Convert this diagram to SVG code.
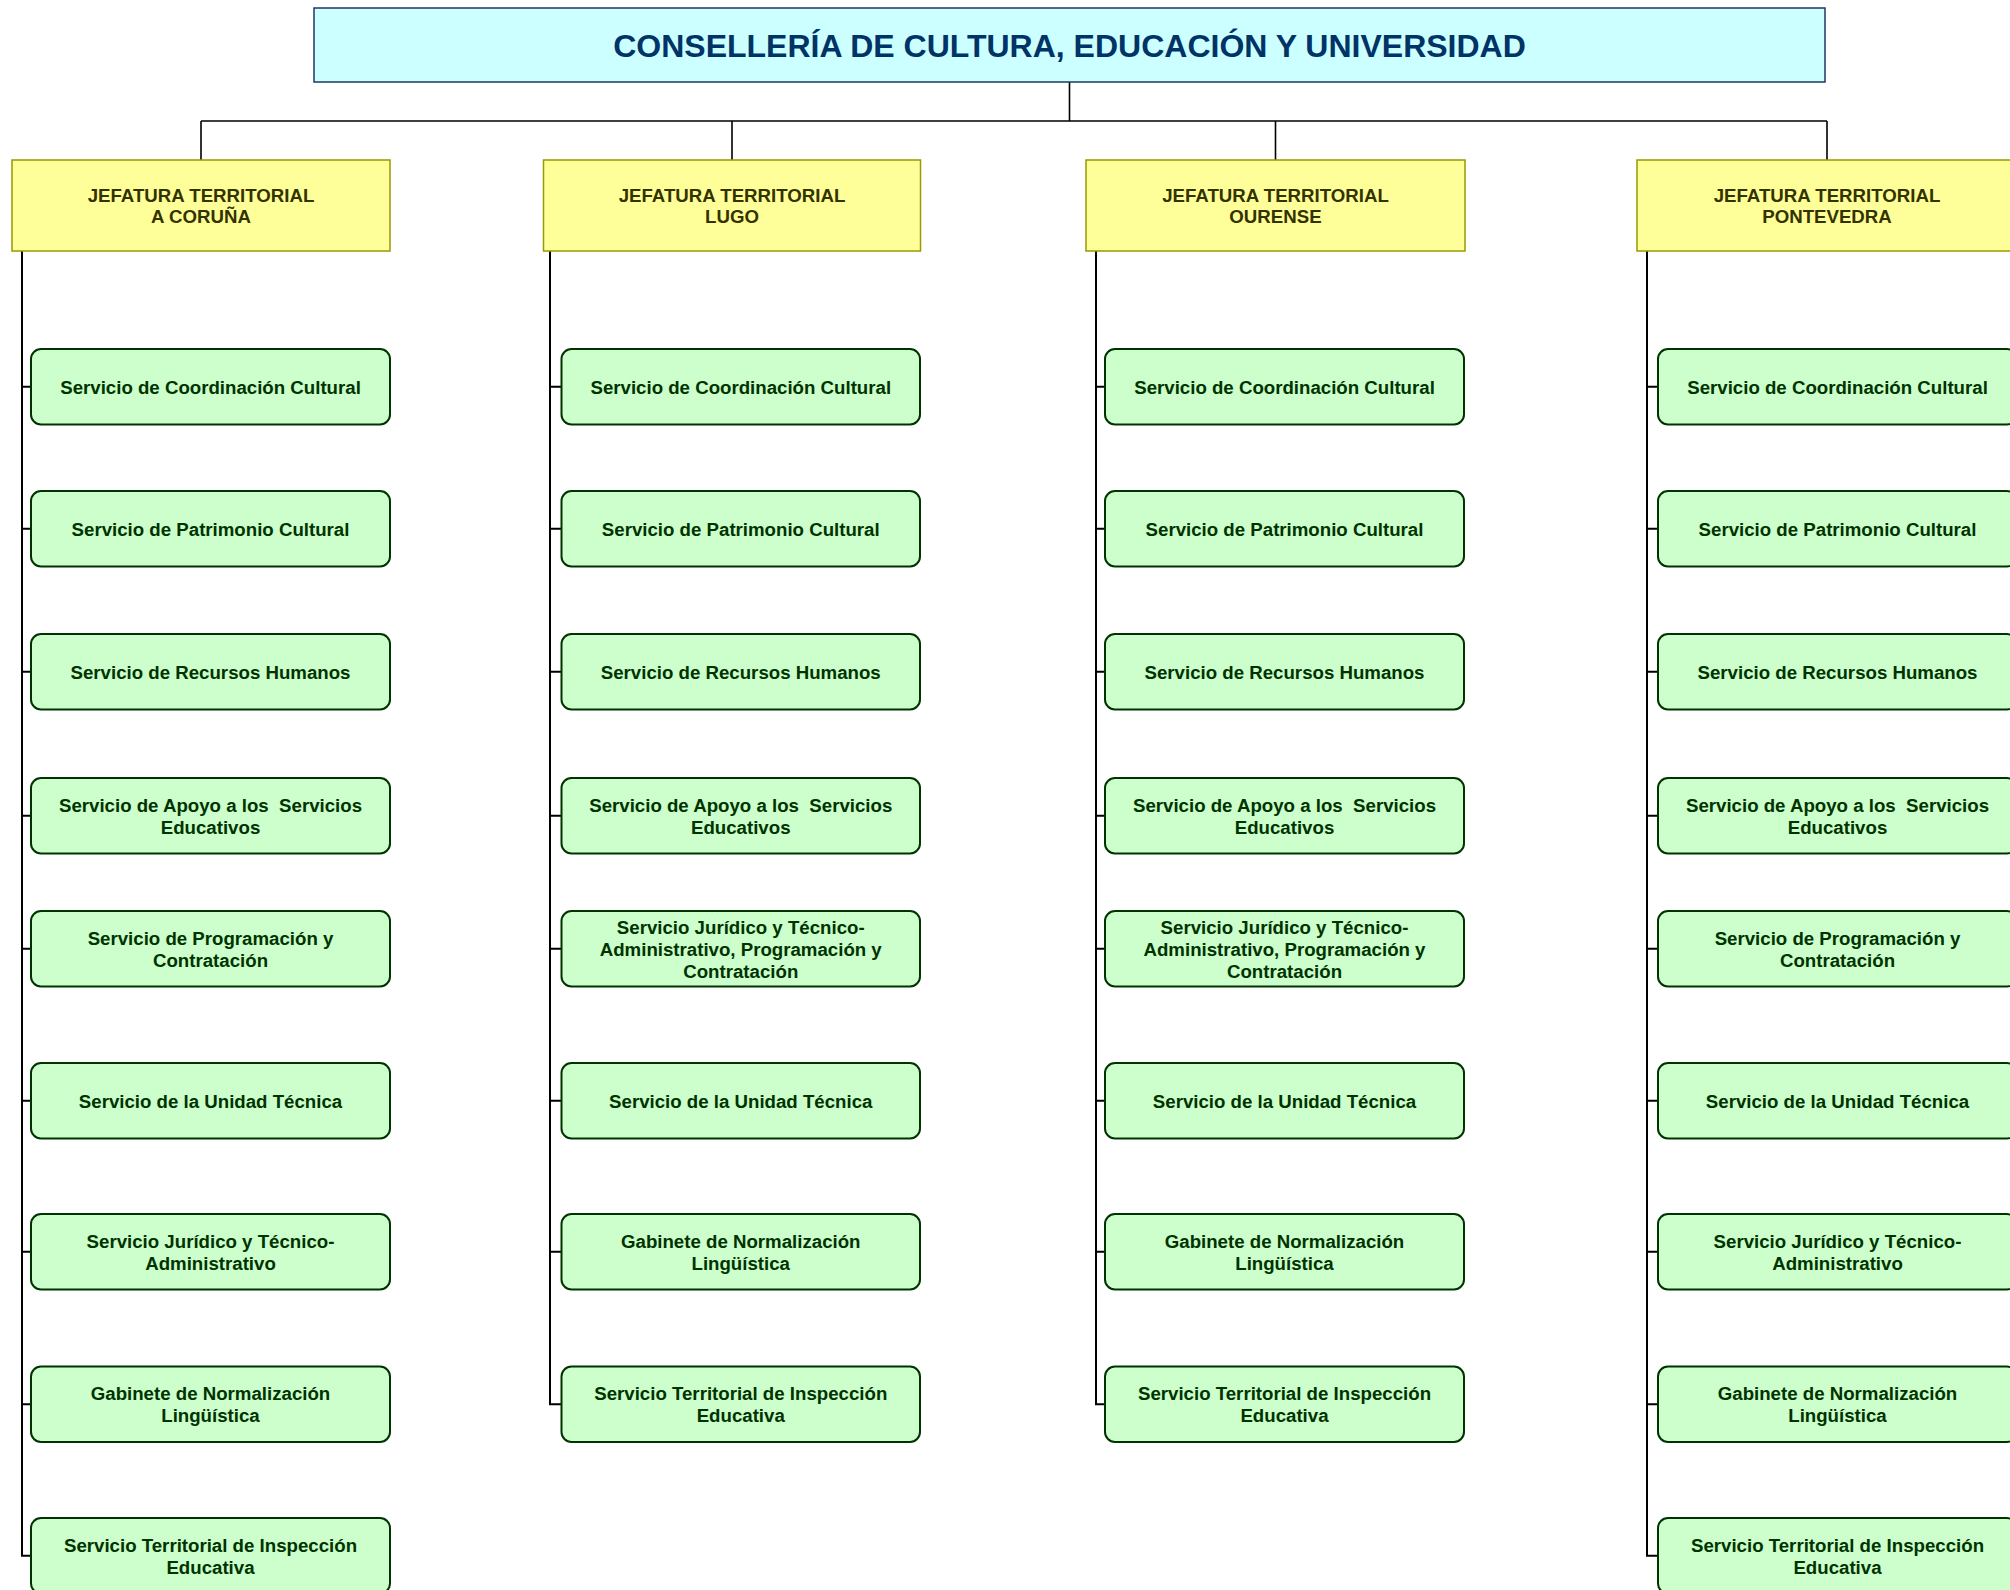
<svg xmlns="http://www.w3.org/2000/svg" width="2010" height="1590" viewBox="0 0 2010 1590">
<style>
text{font-family:"Liberation Sans",Arial,sans-serif;font-weight:bold;text-anchor:middle}
.top{fill:#CCFFFF;stroke:#1F3864;stroke-width:1.5}
.tt{font-size:32px;fill:#003366}
.jef{fill:#FFFF99;stroke:#999900;stroke-width:1.5}
.jt{font-size:18.67px;fill:#333300}
.srv{fill:#CCFFCC;stroke:#003300;stroke-width:2}
.st{font-size:18.67px;fill:#003300}
.ln{fill:none;stroke:#000;stroke-width:2}
.ln2{fill:none;stroke:#000;stroke-width:1.6}
</style>
<rect width="2010" height="1590" fill="#fff"/>
<g id="connectors">
<path class="ln2" d="M1069.5 82 V121 M201 121 H1827 M201 121 V160 M732 121 V160 M1275.5 121 V160 M1827 121 V160"/>
<path class="ln" d="M22 251 V1555.75 H31 M22 386.75 H31 M22 528.75 H31 M22 671.75 H31 M22 815.75 H31 M22 948.75 H31 M22 1100.75 H31 M22 1251.75 H31 M22 1404.25 H31"/>
<path class="ln" d="M550 251 V1404.25 H561.5 M550 386.75 H561.5 M550 528.75 H561.5 M550 671.75 H561.5 M550 815.75 H561.5 M550 948.75 H561.5 M550 1100.75 H561.5 M550 1251.75 H561.5"/>
<path class="ln" d="M1096 251 V1404.25 H1105 M1096 386.75 H1105 M1096 528.75 H1105 M1096 671.75 H1105 M1096 815.75 H1105 M1096 948.75 H1105 M1096 1100.75 H1105 M1096 1251.75 H1105"/>
<path class="ln" d="M1647 251 V1555.75 H1658 M1647 386.75 H1658 M1647 528.75 H1658 M1647 671.75 H1658 M1647 815.75 H1658 M1647 948.75 H1658 M1647 1100.75 H1658 M1647 1251.75 H1658 M1647 1404.25 H1658"/>
</g>
<g id="conselleria"><rect class="top" x="314" y="8" width="1511" height="74"/><text class="tt" x="1069.5" y="56.5">CONSELLERÍA DE CULTURA, EDUCACIÓN Y UNIVERSIDAD</text></g>
<g id="jef-coruna"><rect class="jef" x="12" y="160" width="378" height="91"/><text class="jt" x="201" y="202.3">JEFATURA TERRITORIAL</text><text class="jt" x="201" y="223.3">A CORUÑA</text></g>
<g id="jef-lugo"><rect class="jef" x="543.5" y="160" width="377" height="91"/><text class="jt" x="732" y="202.3">JEFATURA TERRITORIAL</text><text class="jt" x="732" y="223.3">LUGO</text></g>
<g id="jef-ourense"><rect class="jef" x="1086" y="160" width="379" height="91"/><text class="jt" x="1275.5" y="202.3">JEFATURA TERRITORIAL</text><text class="jt" x="1275.5" y="223.3">OURENSE</text></g>
<g id="jef-pontevedra"><rect class="jef" x="1637" y="160" width="380" height="91"/><text class="jt" x="1827" y="202.3">JEFATURA TERRITORIAL</text><text class="jt" x="1827" y="223.3">PONTEVEDRA</text></g>

<g id="cor-1"><rect class="srv" x="31" y="349" width="359" height="75.5" rx="10"/><text class="st" x="210.5" y="393.5">Servicio de Coordinación Cultural</text></g>
<g id="cor-2"><rect class="srv" x="31" y="491" width="359" height="75.5" rx="10"/><text class="st" x="210.5" y="535.5">Servicio de Patrimonio Cultural</text></g>
<g id="cor-3"><rect class="srv" x="31" y="634" width="359" height="75.5" rx="10"/><text class="st" x="210.5" y="678.5">Servicio de Recursos Humanos</text></g>
<g id="cor-4"><rect class="srv" x="31" y="778" width="359" height="75.5" rx="10"/><text class="st" x="210.5" y="811.5" xml:space="preserve">Servicio de Apoyo a los  Servicios</text><text class="st" x="210.5" y="833.5">Educativos</text></g>
<g id="cor-5"><rect class="srv" x="31" y="911" width="359" height="75.5" rx="10"/><text class="st" x="210.5" y="944.5">Servicio de Programación y</text><text class="st" x="210.5" y="966.5">Contratación</text></g>
<g id="cor-6"><rect class="srv" x="31" y="1063" width="359" height="75.5" rx="10"/><text class="st" x="210.5" y="1107.5">Servicio de la Unidad Técnica</text></g>
<g id="cor-7"><rect class="srv" x="31" y="1214" width="359" height="75.5" rx="10"/><text class="st" x="210.5" y="1247.5">Servicio Jurídico y Técnico-</text><text class="st" x="210.5" y="1269.5">Administrativo</text></g>
<g id="cor-8"><rect class="srv" x="31" y="1366.5" width="359" height="75.5" rx="10"/><text class="st" x="210.5" y="1400">Gabinete de Normalización</text><text class="st" x="210.5" y="1422">Lingüística</text></g>
<g id="cor-9"><rect class="srv" x="31" y="1518" width="359" height="75.5" rx="10"/><text class="st" x="210.5" y="1551.5">Servicio Territorial de Inspección</text><text class="st" x="210.5" y="1573.5">Educativa</text></g>

<g id="lug-1"><rect class="srv" x="561.5" y="349" width="358.5" height="75.5" rx="10"/><text class="st" x="740.75" y="393.5">Servicio de Coordinación Cultural</text></g>
<g id="lug-2"><rect class="srv" x="561.5" y="491" width="358.5" height="75.5" rx="10"/><text class="st" x="740.75" y="535.5">Servicio de Patrimonio Cultural</text></g>
<g id="lug-3"><rect class="srv" x="561.5" y="634" width="358.5" height="75.5" rx="10"/><text class="st" x="740.75" y="678.5">Servicio de Recursos Humanos</text></g>
<g id="lug-4"><rect class="srv" x="561.5" y="778" width="358.5" height="75.5" rx="10"/><text class="st" x="740.75" y="811.5" xml:space="preserve">Servicio de Apoyo a los  Servicios</text><text class="st" x="740.75" y="833.5">Educativos</text></g>
<g id="lug-5"><rect class="srv" x="561.5" y="911" width="358.5" height="75.5" rx="10"/><text class="st" x="740.75" y="933.5">Servicio Jurídico y Técnico-</text><text class="st" x="740.75" y="955.5">Administrativo, Programación y</text><text class="st" x="740.75" y="977.5">Contratación</text></g>
<g id="lug-6"><rect class="srv" x="561.5" y="1063" width="358.5" height="75.5" rx="10"/><text class="st" x="740.75" y="1107.5">Servicio de la Unidad Técnica</text></g>
<g id="lug-7"><rect class="srv" x="561.5" y="1214" width="358.5" height="75.5" rx="10"/><text class="st" x="740.75" y="1247.5">Gabinete de Normalización</text><text class="st" x="740.75" y="1269.5">Lingüística</text></g>
<g id="lug-8"><rect class="srv" x="561.5" y="1366.5" width="358.5" height="75.5" rx="10"/><text class="st" x="740.75" y="1400">Servicio Territorial de Inspección</text><text class="st" x="740.75" y="1422">Educativa</text></g>

<g id="our-1"><rect class="srv" x="1105" y="349" width="359" height="75.5" rx="10"/><text class="st" x="1284.5" y="393.5">Servicio de Coordinación Cultural</text></g>
<g id="our-2"><rect class="srv" x="1105" y="491" width="359" height="75.5" rx="10"/><text class="st" x="1284.5" y="535.5">Servicio de Patrimonio Cultural</text></g>
<g id="our-3"><rect class="srv" x="1105" y="634" width="359" height="75.5" rx="10"/><text class="st" x="1284.5" y="678.5">Servicio de Recursos Humanos</text></g>
<g id="our-4"><rect class="srv" x="1105" y="778" width="359" height="75.5" rx="10"/><text class="st" x="1284.5" y="811.5" xml:space="preserve">Servicio de Apoyo a los  Servicios</text><text class="st" x="1284.5" y="833.5">Educativos</text></g>
<g id="our-5"><rect class="srv" x="1105" y="911" width="359" height="75.5" rx="10"/><text class="st" x="1284.5" y="933.5">Servicio Jurídico y Técnico-</text><text class="st" x="1284.5" y="955.5">Administrativo, Programación y</text><text class="st" x="1284.5" y="977.5">Contratación</text></g>
<g id="our-6"><rect class="srv" x="1105" y="1063" width="359" height="75.5" rx="10"/><text class="st" x="1284.5" y="1107.5">Servicio de la Unidad Técnica</text></g>
<g id="our-7"><rect class="srv" x="1105" y="1214" width="359" height="75.5" rx="10"/><text class="st" x="1284.5" y="1247.5">Gabinete de Normalización</text><text class="st" x="1284.5" y="1269.5">Lingüística</text></g>
<g id="our-8"><rect class="srv" x="1105" y="1366.5" width="359" height="75.5" rx="10"/><text class="st" x="1284.5" y="1400">Servicio Territorial de Inspección</text><text class="st" x="1284.5" y="1422">Educativa</text></g>

<g id="pon-1"><rect class="srv" x="1658" y="349" width="359" height="75.5" rx="10"/><text class="st" x="1837.5" y="393.5">Servicio de Coordinación Cultural</text></g>
<g id="pon-2"><rect class="srv" x="1658" y="491" width="359" height="75.5" rx="10"/><text class="st" x="1837.5" y="535.5">Servicio de Patrimonio Cultural</text></g>
<g id="pon-3"><rect class="srv" x="1658" y="634" width="359" height="75.5" rx="10"/><text class="st" x="1837.5" y="678.5">Servicio de Recursos Humanos</text></g>
<g id="pon-4"><rect class="srv" x="1658" y="778" width="359" height="75.5" rx="10"/><text class="st" x="1837.5" y="811.5" xml:space="preserve">Servicio de Apoyo a los  Servicios</text><text class="st" x="1837.5" y="833.5">Educativos</text></g>
<g id="pon-5"><rect class="srv" x="1658" y="911" width="359" height="75.5" rx="10"/><text class="st" x="1837.5" y="944.5">Servicio de Programación y</text><text class="st" x="1837.5" y="966.5">Contratación</text></g>
<g id="pon-6"><rect class="srv" x="1658" y="1063" width="359" height="75.5" rx="10"/><text class="st" x="1837.5" y="1107.5">Servicio de la Unidad Técnica</text></g>
<g id="pon-7"><rect class="srv" x="1658" y="1214" width="359" height="75.5" rx="10"/><text class="st" x="1837.5" y="1247.5">Servicio Jurídico y Técnico-</text><text class="st" x="1837.5" y="1269.5">Administrativo</text></g>
<g id="pon-8"><rect class="srv" x="1658" y="1366.5" width="359" height="75.5" rx="10"/><text class="st" x="1837.5" y="1400">Gabinete de Normalización</text><text class="st" x="1837.5" y="1422">Lingüística</text></g>
<g id="pon-9"><rect class="srv" x="1658" y="1518" width="359" height="75.5" rx="10"/><text class="st" x="1837.5" y="1551.5">Servicio Territorial de Inspección</text><text class="st" x="1837.5" y="1573.5">Educativa</text></g>
</svg>
